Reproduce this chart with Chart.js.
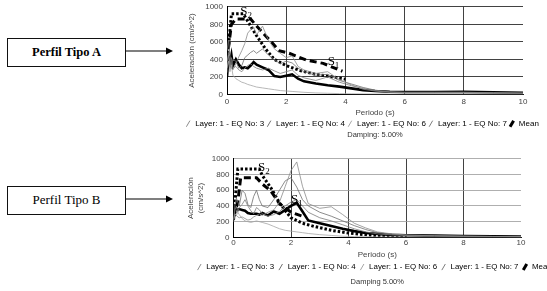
<!DOCTYPE html>
<html>
<head>
<meta charset="utf-8">
<script src="https://cdn.jsdelivr.net/npm/chart.js@4.4.1/dist/chart.umd.min.js"></script>
<style>
  body { margin: 0; width: 547px; height: 291px; background: #fff; position: relative; overflow: hidden; }
  .perfil { position: absolute; left: 7px; width: 119px; height: 29px; box-sizing: border-box;
            border: 1.5px solid #111; font-size: 13px; color: #000;
            font-family: "Liberation Serif", "Times New Roman", "DejaVu Serif", serif;
            text-align: center; line-height: 26px; }
  .graf { position: absolute; }
  svg.flecha { position: absolute; left: 0; top: 0; }
</style>
</head>
<body>
<div class="perfil" style="top:38px;font-weight:bold;font-size:12.5px">Perfil Tipo A</div>
<div class="perfil" style="top:186px">Perfil Tipo B</div>
<svg class="flecha" width="180" height="291">
  <line x1="126" y1="51" x2="167" y2="51" stroke="#000" stroke-width="1.2"/>
  <polygon points="166,47.5 173,51 166,54.5" fill="#000"/>
  <line x1="126" y1="199" x2="167" y2="199" stroke="#000" stroke-width="1.2"/>
  <polygon points="166,195.5 173,199 166,202.5" fill="#000"/>
</svg>
<div class="graf" style="left:170px;top:-2px;width:384px;height:141px"><canvas id="grafA"></canvas></div>
<div class="graf" style="left:178px;top:150px;width:392px;height:136px"><canvas id="grafB"></canvas></div>

<script>
// periodos comunes de los registros (s)
var periodos = [0, 0.05, 0.1, 0.15, 0.2, 0.3, 0.4, 0.5, 0.6, 0.7, 0.8, 0.9, 1.0, 1.2, 1.4, 1.6, 1.8, 2.0,
                2.2, 2.4, 2.6, 3.0, 3.4, 3.8, 4.2, 4.6, 5.0, 5.5, 6, 7, 8, 9, 10];

// Perfil tipo A (cm/s^2)
var eq3A = [380, 450, 350, 300, 280, 350, 430, 500, 580, 700, 740, 770, 680, 780, 620, 520, 470, 420,
            440, 320, 280, 240, 260, 170, 110, 60, 40, 25, 20, 20, 22, 18, 15];
var eq4A = [500, 620, 450, 350, 400, 380, 300, 330, 420, 450, 480, 500, 470, 520, 450, 400, 350, 380,
            360, 300, 260, 220, 230, 160, 120, 80, 50, 30, 25, 25, 25, 20, 15];
var eq6A = [300, 380, 260, 330, 220, 180, 160, 140, 130, 115, 105, 95, 85, 75, 65, 55, 45, 40,
            35, 30, 25, 18, 14, 10, 8, 6, 5, 5, 5, 5, 5, 5, 5];
var eq7A = [250, 480, 320, 420, 300, 320, 280, 260, 300, 330, 350, 320, 300, 280, 300, 270, 240, 260,
            280, 220, 190, 160, 200, 140, 100, 70, 45, 30, 25, 25, 25, 20, 15];
var mediaA = [200, 430, 360, 450, 330, 400, 340, 300, 310, 300, 330, 370, 340, 310, 280, 210, 200, 215,
              230, 180, 150, 125, 105, 90, 70, 50, 40, 32, 28, 28, 30, 25, 20];
var tS1A = [0, 0.15, 0.3, 0.8, 1.0, 1.3, 1.5, 1.75, 2.1, 2.7, 3.25, 3.9];
var s1A  = [400, 800, 860, 860, 780, 670, 600, 500, 470, 390, 355, 265];
var tS2A = [0, 0.15, 0.55, 0.8, 1.0, 1.3, 1.6, 2.0, 2.5, 3.0, 3.5, 4.0];
var s2A  = [360, 920, 920, 780, 670, 520, 400, 330, 270, 230, 205, 175];

// Perfil tipo B (cm/s^2)
var eq3B = [230, 300, 280, 260, 250, 260, 240, 220, 230, 260, 280, 300, 280, 320, 350, 450, 650, 850,
            960, 650, 430, 370, 390, 290, 180, 120, 70, 45, 30, 20, 15, 12, 10];
var eq4B = [220, 420, 500, 450, 400, 600, 560, 420, 380, 520, 600, 480, 400, 380, 480, 600, 720, 760,
            640, 480, 400, 320, 270, 210, 150, 100, 60, 40, 30, 20, 15, 12, 10];
var eq6B = [200, 300, 280, 320, 290, 240, 210, 200, 190, 200, 210, 200, 190, 170, 140, 110, 90, 80,
            70, 60, 50, 35, 25, 15, 10, 8, 6, 5, 5, 5, 5, 5, 5];
var eq7B = [240, 350, 400, 320, 380, 420, 480, 400, 340, 300, 380, 350, 300, 270, 290, 330, 400, 450,
            480, 400, 320, 250, 210, 160, 110, 70, 45, 32, 25, 20, 15, 12, 10];
var mediaB = [250, 380, 360, 350, 360, 350, 340, 310, 300, 300, 300, 290, 310, 280, 330, 300, 350, 400,
              440, 330, 216, 180, 145, 110, 80, 55, 45, 32, 28, 22, 16, 13, 10];
var tS1B = [0, 0.15, 0.25, 0.8, 1.0, 1.3, 1.6, 2.0, 2.4];
var s1B  = [250, 450, 760, 760, 680, 590, 430, 320, 270];
var tS2B = [0, 0.15, 0.9, 1.0, 1.3, 1.6, 1.8, 2.0, 2.4, 2.8, 3.4, 4.0, 5.0, 6.0];
var s2B  = [220, 870, 870, 790, 630, 440, 340, 250, 180, 140, 90, 55, 20, 0];

var etiquetas = ["Layer: 1 - EQ No: 3", "Layer: 1 - EQ No: 4", "Layer: 1 - EQ No: 6", "Layer: 1 - EQ No: 7", "Mean"];
var xTicks = [0, 2, 4, 6, 8, 10];
var yTicks = [0, 200, 400, 600, 800, 1000];

function serie(xs, ys) {
  return xs.map(function (p, i) { return {x: p, y: ys[i]}; });
}

// rotulos S1 / S2 sobre el grafico
var rotulosS = {
  id: 'rotulosS',
  afterDatasetsDraw: function (chart, args, opts) {
    var ctx = chart.ctx, x = chart.scales.x, y = chart.scales.y;
    ctx.save();
    ctx.fillStyle = '#000';
    ctx.textBaseline = 'middle';
    (opts.items || []).forEach(function (it) {
      var px = x.getPixelForValue(it.x), py = y.getPixelForValue(it.y);
      ctx.font = '13px "Liberation Serif", "DejaVu Serif", serif';
      ctx.fillText('S', px, py);
      var w = ctx.measureText('S').width;
      ctx.font = '9px "Liberation Serif", "DejaVu Serif", serif';
      ctx.fillText(it.sub, px + w, py + 4);
    });
    ctx.restore();
  }
};

function crearGrafico(id, d) {
  var grisLineas = ['#8c8c8c', '#6f6f6f', '#a6a6a6', '#7d7d7d'];
  var eqs = [d.eq3, d.eq4, d.eq6, d.eq7];
  var datasets = eqs.map(function (v, i) {
    return {label: etiquetas[i], data: serie(periodos, v), borderColor: grisLineas[i],
            borderWidth: 0.8, leyenda: true};
  });
  datasets.push({label: 'Mean', data: serie(periodos, d.media), borderColor: '#000', borderWidth: 2.6, leyenda: true});
  datasets.push({label: 'S1', data: serie(d.tS1, d.s1), borderColor: '#000', borderWidth: 3, borderDash: [7, 4]});
  datasets.push({label: 'S2', data: serie(d.tS2, d.s2), borderColor: '#000', borderWidth: 3, borderDash: [2.5, 2]});

  return new Chart(id, {
    type: 'line',
    data: {datasets: datasets},
    options: {
      animation: false,
      responsive: true,
      maintainAspectRatio: false,
      elements: {point: {radius: 0}, line: {tension: 0, borderCapStyle: 'butt'}},
      layout: {padding: {left: 0, right: 0, top: d.padTop, bottom: 0}},
      scales: {
        x: {
          type: 'linear', min: 0, max: 10,
          afterBuildTicks: function (s) { s.ticks = xTicks.map(function (v) { return {value: v}; }); },
          grid: {color: function (c) { return c.tick && c.tick.value === 10 ? 'rgba(0,0,0,0)' : '#111'; },
                 lineWidth: 0.8, drawTicks: false},
          border: {color: '#000', width: 1},
          ticks: {font: {family: 'Liberation Sans', size: 8}, color: '#444', padding: d.padTickX, maxRotation: 0,
                  callback: function (v) { return String(v); }},
          title: {display: true, text: 'Periodo (s)', font: {family: 'Liberation Sans', size: 8},
                  color: '#444', padding: {top: d.padTituloX, bottom: 0}}
        },
        y: {
          min: 0, max: 1000,
          afterBuildTicks: function (s) { s.ticks = yTicks.map(function (v) { return {value: v}; }); },
          afterFit: function (s) { s.width = d.anchoY; },
          grid: {color: d.grisY, lineWidth: 0.8, drawTicks: false},
          border: {color: '#000', width: 1},
          ticks: {font: {family: 'Liberation Sans', size: 8}, color: '#444', padding: 4,
                  callback: function (v) { return String(v); }},
          title: {display: true, text: d.tituloY, font: {family: 'Liberation Sans', size: 8},
                  color: '#444', padding: {top: d.padTituloY, bottom: 0}}
        },
        margen: {
          position: 'right', display: true,
          grid: {display: false}, border: {display: false}, ticks: {display: false},
          afterFit: function (s) { s.width = d.anchoDer; }
        }
      },
      plugins: {
        legend: {
          position: 'bottom',
          labels: {
            font: {family: 'Liberation Sans', size: d.letraLeyenda}, color: '#333',
            usePointStyle: true, boxHeight: 5, boxWidth: 6, padding: d.padLeyenda,
            generateLabels: function (chart) {
              return chart.data.datasets.map(function (ds, i) {
                return {text: ds.label, strokeStyle: ds.borderColor, fillStyle: ds.borderColor,
                        lineWidth: ds.label === 'Mean' ? 3 : 1, pointStyle: 'line', rotation: -60,
                        hidden: false, datasetIndex: i, leyenda: ds.leyenda};
              }).filter(function (it) { return it.leyenda; });
            }
          }
        },
        title: {
          display: true, position: 'bottom', fullSize: false, text: d.amort,
          font: {family: 'Liberation Sans', size: 7.5, weight: 'normal'}, color: '#333',
          padding: {top: d.padAmort, bottom: 0}
        },
        tooltip: {enabled: false},
        rotulosS: {items: d.rotulos}
      }
    },
    plugins: [rotulosS]
  });
}

crearGrafico('grafA', {
  eq3: eq3A, eq4: eq4A, eq6: eq6A, eq7: eq7A, media: mediaA,
  tS1: tS1A, s1: s1A, tS2: tS2A, s2: s2A,
  padTop: 0, anchoY: 57, anchoDer: 31, grisY: '#111', padTickX: 2, padTituloX: 0,
  tituloY: 'Aceleración (cm/s^2)', padTituloY: 17, padLeyenda: 2, letraLeyenda: 8, padAmort: -7.7,
  amort: 'Damping: 5.00%',
  rotulos: [{x: 0.45, y: 940, sub: '2'}, {x: 3.4, y: 370, sub: '1'}]
});

crearGrafico('grafB', {
  eq3: eq3B, eq4: eq4B, eq6: eq6B, eq7: eq7B, media: mediaB,
  tS1: tS1B, s1: s1B, tS2: tS2B, s2: s2B,
  padTop: 4.5, anchoY: 55.5, anchoDer: 49, grisY: '#9a9a9a', padTickX: 1, padTituloX: 1,
  tituloY: ['Aceleración', '(cm/s^2)'], padTituloY: 8, padLeyenda: 3.5, letraLeyenda: 7.9, padAmort: -4,
  amort: 'Damping 5.00%',
  rotulos: [{x: 0.85, y: 890, sub: '2'}, {x: 2.0, y: 480, sub: '1'}]
});
</script>
</body>
</html>
